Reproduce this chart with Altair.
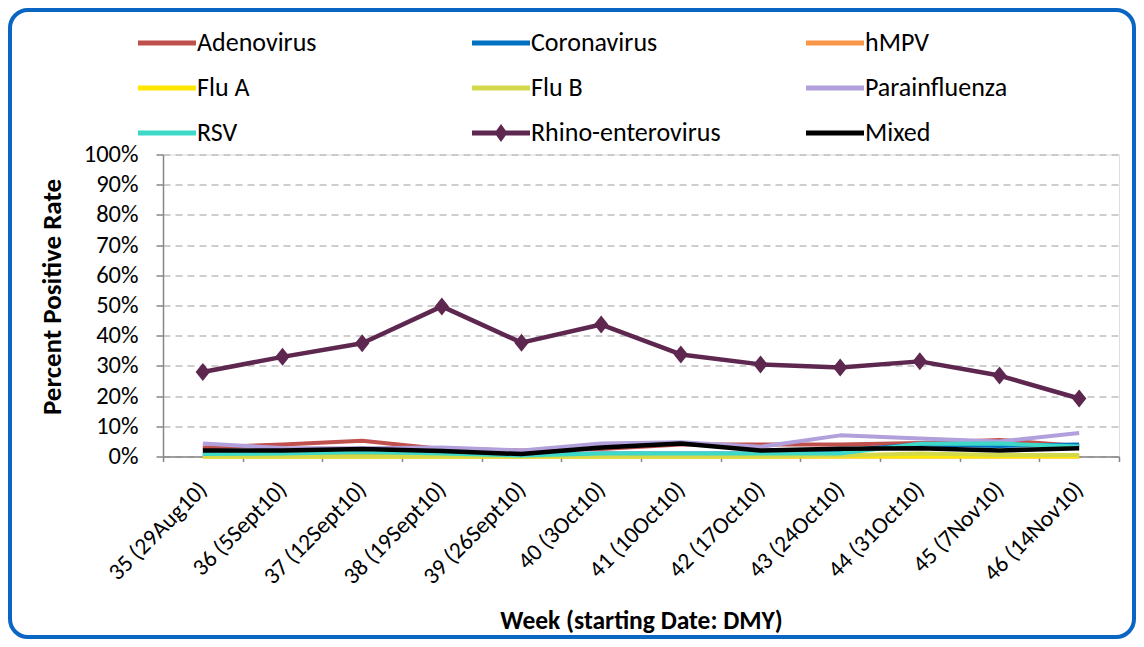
import altair as alt
import pandas as pd

weeks = ["35 (29Aug10)", "36 (5Sept10)", "37 (12Sept10)", "38 (19Sept10)",
         "39 (26Sept10)", "40 (3Oct10)", "41 (10Oct10)", "42 (17Oct10)",
         "43 (24Oct10)", "44 (31Oct10)", "45 (7Nov10)", "46 (14Nov10)"]

series = ["Adenovirus", "Coronavirus", "hMPV", "Flu A", "Flu B",
          "Parainfluenza", "RSV", "Rhino-enterovirus", "Mixed"]
colors = ["#C0504D", "#0070C0", "#F79646", "#FFE600", "#D4D94A",
          "#B1A0DB", "#3DD8C8", "#5E2750", "#000000"]

adenovirus = [0.030, 0.040, 0.052, 0.025, 0.020, 0.025, 0.040, 0.040, 0.040, 0.045, 0.055, 0.035]
coronavirus = [0.005, 0.005, 0.010, 0.010, 0.005, 0.010, 0.010, 0.010, 0.020, 0.040, 0.035, 0.040]
hmpv = [0.0, 0.0, 0.0, 0.0, 0.0, 0.0, 0.0, 0.0, 0.0, 0.0, 0.0, 0.0]
flu_a = [0.0, 0.0, 0.0, 0.0, 0.0, 0.0, 0.0, 0.0, 0.0, 0.0, 0.0, 0.0]
flu_b = [0.0, 0.0, 0.0, 0.0, 0.0, 0.0, 0.0, 0.0, 0.003, 0.010, 0.005, 0.005]
parainfluenza = [0.043, 0.028, 0.027, 0.030, 0.020, 0.043, 0.047, 0.032, 0.070, 0.060, 0.050, 0.078]
rsv = [0.008, 0.010, 0.015, 0.010, 0.003, 0.010, 0.010, 0.010, 0.010, 0.042, 0.043, 0.033]
rhino = [0.280, 0.330, 0.375, 0.497, 0.377, 0.437, 0.338, 0.305, 0.295, 0.315, 0.268, 0.192]
mixed = [0.020, 0.020, 0.025, 0.018, 0.008, 0.030, 0.043, 0.020, 0.026, 0.027, 0.020, 0.027]

values = {"Adenovirus": adenovirus, "Coronavirus": coronavirus, "hMPV": hmpv,
          "Flu A": flu_a, "Flu B": flu_b, "Parainfluenza": parainfluenza,
          "RSV": rsv, "Rhino-enterovirus": rhino, "Mixed": mixed}

rows = [{"Week": w, "Series": s, "Rate": v}
        for s in series for w, v in zip(weeks, values[s])]
df = pd.DataFrame(rows)

FONT = "Carlito, Lato, sans-serif"
AXIS_GRAY = "#868686"

bar = "M-2.9,-0.24L2.9,-0.24L2.9,0.24L-2.9,0.24Z"
rhino_sym = bar + "M0,-0.9L0.65,0L0,0.9L-0.65,0Z"
shapes = [rhino_sym if s == "Rhino-enterovirus" else bar for s in series]

x_axis = alt.Axis(labelAngle=-45, labelAlign="right", labelBaseline="middle",
                  labelFont=FONT, labelFontSize=23.5, labelColor="#000000",
                  labelPadding=24, labelOverlap=False, labelLimit=300,
                  tickSize=5, tickBand="extent", tickColor=AXIS_GRAY, tickWidth=1.5,
                  domainColor=AXIS_GRAY, domainWidth=1.5, grid=False,
                  title="Week (starting Date: DMY)", titleFont=FONT,
                  titleFontSize=25.5, titleFontWeight="bold", titleColor="#000000",
                  titleX=478, titleY=164, titleAlign="center", titleBaseline="middle")
y_axis = alt.Axis(values=[i / 10 for i in range(11)], format=".0%",
                  labelFont=FONT, labelFontSize=24.5, labelColor="#000000",
                  labelPadding=18, tickSize=7, tickColor=AXIS_GRAY, tickWidth=1.5,
                  domainColor=AXIS_GRAY, domainWidth=1.5,
                  grid=True, gridColor="#BFBFBF", gridDash=[7, 5], gridWidth=1.5,
                  title="Percent Positive Rate", titleFont=FONT, titleFontSize=27,
                  titleFontWeight="bold", titleColor="#000000",
                  titleX=-111, titleY=142, titleAngle=270,
                  titleAlign="center", titleBaseline="middle")

x_enc = alt.X("Week:N", sort=weeks,
              scale=alt.Scale(type="band", domain=weeks, paddingInner=0, paddingOuter=0),
              axis=x_axis)
y_enc = alt.Y("Rate:Q", scale=alt.Scale(domain=[0, 1], nice=False), axis=y_axis)
color_scale = alt.Scale(domain=series, range=colors)

legend = alt.Legend(title=None, orient="none", direction="horizontal",
                    legendX=-25, legendY=-124.5,
                    columns=3, gridAlign="all", columnPadding=85, rowPadding=19,
                    symbolSize=400, symbolOffset=16, labelOffset=17,
                    symbolStrokeWidth=0, labelFont=FONT, labelFontSize=26,
                    labelColor="#000000", labelLimit=400, padding=0)

legend_layer = alt.Chart(df).transform_filter("false").mark_point(
    filled=True, opacity=1
).encode(
    x=x_enc, y=y_enc,
    color=alt.Color("Series:N", scale=color_scale, legend=legend),
    shape=alt.Shape("Series:N", scale=alt.Scale(domain=series, range=shapes), legend=legend),
)

frame = alt.Chart(pd.DataFrame({"f": [0]})).mark_rect(
    filled=False, stroke="#0A66C2", strokeWidth=4, cornerRadius=18
).encode(x=alt.value(-153), x2=alt.value(971), y=alt.value(-144.5), y2=alt.value(482.5))

lines = []
for s in series:
    w = 4.5 if s in ("Rhino-enterovirus", "Mixed") else 4
    lines.append(
        alt.Chart(df).transform_filter(alt.datum.Series == s)
        .mark_line(strokeWidth=w, strokeJoin="round")
        .encode(x=x_enc, y=y_enc,
                color=alt.Color("Series:N", scale=color_scale, legend=None))
    )

markers = alt.Chart(df).transform_filter(alt.datum.Series == "Rhino-enterovirus").mark_point(
    filled=True, opacity=1, shape="M0,-1L0.8,0L0,1L-0.8,0Z", size=324, color="#5E2750"
).encode(x=x_enc, y=y_enc)

chart = alt.layer(legend_layer, frame, *lines, markers).properties(
    width=956, height=302,
    autosize=alt.AutoSizeParams(type="none"),
    padding={"left": 155, "top": 146.5, "right": 17, "bottom": 182.5},
).configure_view(stroke=None).configure(font=FONT)

chart.save("out.html", embed_options={"renderer": "svg", "actions": False})
